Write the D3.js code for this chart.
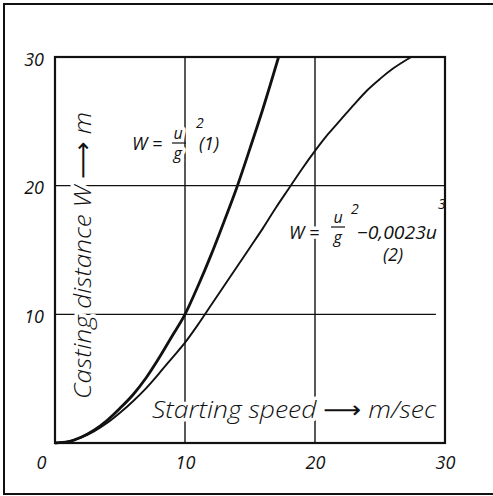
<!DOCTYPE html>
<html><head><meta charset="utf-8">
<script src="https://cdn.jsdelivr.net/npm/d3@7"></script>
<style>
html,body{margin:0;padding:0;background:#fff;}
svg{display:block;}
text{font-family:"Open Sans","DejaVu Sans",sans-serif;font-style:italic;font-weight:400;fill:#111;}
text.title{font-weight:300;}
</style></head>
<body>
<svg id="chart" width="493" height="496"></svg>
<script>
// ---- data ----
const speedTicks = [0, 10, 20, 30];          // x-axis tick values (m/sec)
const distanceTicks = [10, 20, 30];          // y-axis tick values (m)
const gridValues = [10, 20];                 // inner grid lines

// curve (1): W = u^2/g
const curve1Speed = [0, 1, 2, 3, 4, 5, 6, 7, 8, 9, 10, 11, 12, 13, 14, 15, 16, 17.2];
const curve1Dist  = [0, 0.1, 0.45, 1.0, 1.75, 2.7, 3.75, 5.05, 6.6, 8.3, 10.0, 12.2, 14.6, 17.2, 19.9, 22.9, 26.0, 30.0];

// curve (2): W = u^2/g - 0.0023u^3
const curve2Speed = [0, 1, 2, 3, 4, 5, 6, 7, 8, 9, 10, 11, 12, 13, 14, 15, 16, 17, 18, 19, 20, 21, 22, 23, 24, 25, 26, 27.4];
const curve2Dist  = [0, 0.1, 0.42, 0.9, 1.55, 2.35, 3.25, 4.25, 5.4, 6.6, 7.8, 9.2, 10.7, 12.2, 13.7, 15.2, 16.7, 18.3, 19.8, 21.3, 22.7, 24.0, 25.15, 26.3, 27.4, 28.3, 29.1, 30.0];

const xTitle = "Starting speed \u27F6 m/sec";
const yTitle = "Casting distance W \u27F6 m";

// ---- drawing ----
const svg = d3.select("#chart");
const W = 493, H = 496;
const plot = {left: 55, right: 445, top: 57, bottom: 443};

const x = d3.scaleLinear().domain([0, 30]).range([plot.left, plot.right]);
const y = d3.scaleLinear().domain([0, 30]).range([plot.bottom, plot.top]);

// outer frame (right edge runs off the picture)
svg.append("rect").attr("x", 4).attr("y", 4).attr("width", W + 10).attr("height", 490)
  .attr("fill", "none").attr("stroke", "#111").attr("stroke-width", 2);

// grid lines
const grid = svg.append("g").attr("stroke", "#111").attr("stroke-width", 1.4);
grid.selectAll("line.v").data(gridValues).join("line").attr("class", "v")
  .attr("x1", d => x(d)).attr("x2", d => x(d)).attr("y1", y(30)).attr("y2", y(0));
grid.selectAll("line.h").data(gridValues).join("line").attr("class", "h")
  .attr("x1", x(0)).attr("x2", d => d === 10 ? x(29.3) : x(30)).attr("y1", d => y(d)).attr("y2", d => y(d));

// labels inside the plot (white halo breaks grid lines)
const halo = sel => sel.attr("stroke", "#fff").attr("stroke-width", 7)
  .attr("stroke-linejoin", "round").attr("paint-order", "stroke");

svg.append("text").attr("class", "title").call(halo)
  .attr("transform", "translate(91,399) rotate(-90)")
  .attr("font-size", 24).attr("textLength", 287).attr("lengthAdjust", "spacingAndGlyphs")
  .text(yTitle);

svg.append("text").attr("class", "title").call(halo)
  .attr("x", 152).attr("y", 418)
  .attr("font-size", 24).attr("textLength", 284).attr("lengthAdjust", "spacingAndGlyphs")
  .text(xTitle);

// equation (1): one text element, fraction built with tspans
const eq1 = svg.append("text").call(halo).attr("font-size", 18);
eq1.append("tspan").attr("x", 132).attr("y", 150).text("W =");
eq1.append("tspan").attr("x", 173.5).attr("y", 139).attr("font-size", 16).text("u");
eq1.append("tspan").attr("x", 173.5).attr("y", 159).attr("font-size", 16).text("g");
eq1.append("tspan").attr("x", 196).attr("y", 128).attr("font-size", 14).text("2");
eq1.append("tspan").attr("x", 199).attr("y", 150).text("(1)");
svg.append("line").attr("x1", 172).attr("x2", 186).attr("y1", 143).attr("y2", 143)
  .attr("stroke", "#111").attr("stroke-width", 1.2);

// equation (2)
const eq2 = svg.append("text").call(halo).attr("font-size", 18);
eq2.append("tspan").attr("x", 289).attr("y", 239).text("W =");
eq2.append("tspan").attr("x", 333.5).attr("y", 223).attr("font-size", 16).text("u");
eq2.append("tspan").attr("x", 333.5).attr("y", 243).attr("font-size", 16).text("g");
eq2.append("tspan").attr("x", 351).attr("y", 214).attr("font-size", 14).text("2");
eq2.append("tspan").attr("x", 357).attr("y", 239).attr("textLength", 80).attr("lengthAdjust", "spacingAndGlyphs").text("\u22120,0023u");
eq2.append("tspan").attr("x", 438).attr("y", 209).attr("font-size", 14).text("3");
eq2.append("tspan").attr("x", 383).attr("y", 261).text("(2)");
svg.append("line").attr("x1", 331).attr("x2", 345).attr("y1", 227).attr("y2", 227)
  .attr("stroke", "#111").attr("stroke-width", 1.2);

// plot box
svg.append("rect").attr("x", plot.left).attr("y", plot.top)
  .attr("width", plot.right - plot.left).attr("height", plot.bottom - plot.top)
  .attr("fill", "none").attr("stroke", "#111").attr("stroke-width", 2.2);

// curves
const line = d3.line().x(d => x(d[0])).y(d => y(d[1])).curve(d3.curveMonotoneX);
svg.append("path").datum(d3.zip(curve1Speed, curve1Dist)).attr("d", line)
  .attr("fill", "none").attr("stroke", "#111").attr("stroke-width", 2.8);
svg.append("path").datum(d3.zip(curve2Speed, curve2Dist)).attr("d", line)
  .attr("fill", "none").attr("stroke", "#111").attr("stroke-width", 1.9);

// axes (tick labels only)
const xAxis = svg.append("g").attr("transform", `translate(0,${plot.bottom})`)
  .call(d3.axisBottom(x).tickValues(speedTicks).tickSize(0).tickPadding(26).tickFormat(d3.format("d")));
xAxis.select(".domain").remove();
xAxis.selectAll("text").attr("font-size", 18).attr("font-family", null).attr("fill", "#111")
  .attr("dx", d => d === 0 ? -14 : 0).attr("dy", 0);

const yAxis = svg.append("g").attr("transform", `translate(${plot.left},0)`)
  .call(d3.axisLeft(y).tickValues(distanceTicks).tickSize(0).tickPadding(11).tickFormat(d3.format("d")));
yAxis.select(".domain").remove();
yAxis.selectAll("text").attr("font-size", 18).attr("font-family", null).attr("fill", "#111")
  .attr("dy", 8);
</script>
</body></html>
